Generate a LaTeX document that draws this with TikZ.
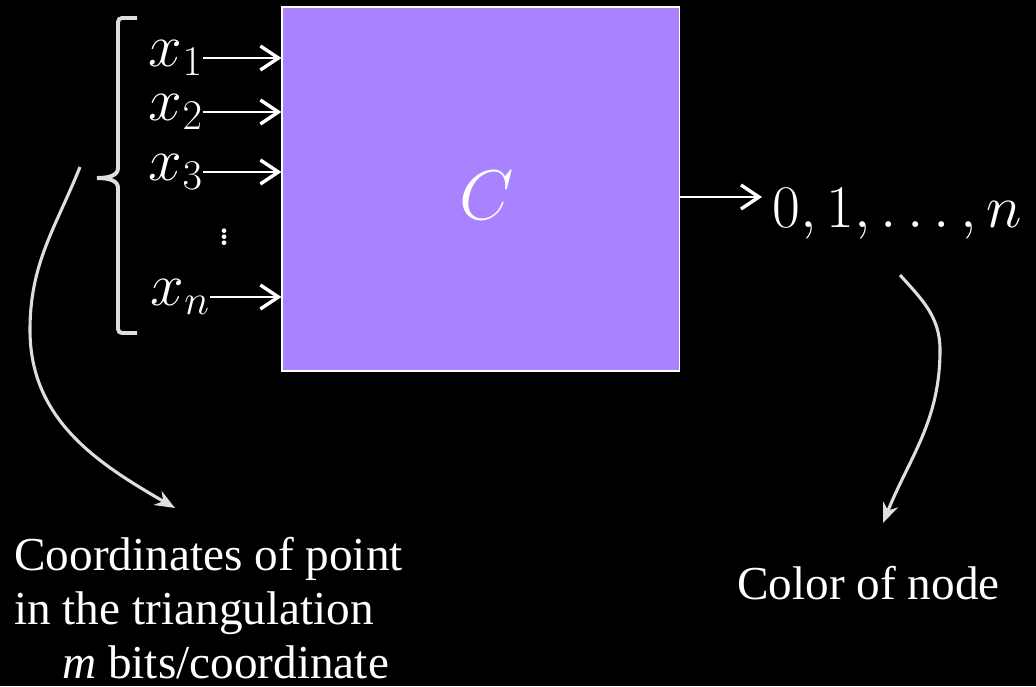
\documentclass[tikz,border=0pt]{standalone}
\usepackage{fix-cm}
\usepackage{fontspec}
\newfontfamily\tnr{Liberation Serif}
\usetikzlibrary{arrows.meta}
\definecolor{hopmau}{RGB}{169,131,255}
\definecolor{xam}{RGB}{222,222,222}

\begin{document}
\begin{tikzpicture}[x=0.025cm, y=-0.025cm,
    >={Straight Barb[length=4.5mm,width=6mm,line width=2.4pt]},
    nhan/.style={text=white, inner sep=0pt, font=\fontsize{43}{50}\selectfont},
    vao/.style={->, white, line width=1.4pt},
    cong/.style={-{Stealth[length=5mm,width=4mm]}, xam, line width=2.2pt},
    chu/.style={text=white, inner sep=0pt, align=left, font=\tnr\fontsize{33.6}{38.3}\selectfont}]
    % Nền
    \fill[black] (0,0) rectangle (1036,686);
    \useasboundingbox (0,0) rectangle (1036,686);

    % Mạch C
    \node[draw=white, fill=hopmau, line width=0.8pt, minimum width=9.925cm,
        minimum height=9.1cm] (C) at (480.5,189) {};
    \node[nhan, font=\fontsize{50}{60}\selectfont] (tenC) at (487,195) {$C$};

    % Các đầu vào
    \node[nhan, anchor=east] (x1) at (203,58) {$x_1$};
    \node[nhan, anchor=east] (x2) at (203,112) {$x_2$};
    \node[nhan, anchor=east] (x3) at (203,172) {$x_3$};
    \node[text=white, inner sep=0pt, font=\fontsize{40}{48}\selectfont] (vd) at (225,233) {$\vdots$};
    \node[nhan, anchor=east] (xn) at (210,297) {$x_n$};
    \foreach \i in {x1,x2,x3,xn}
        \draw[vao] (\i.east) -- (\i.east -| C.west);

    % Ngoặc
    \draw[xam, line width=2.8pt] (137,18) -- (122,18) to[out=180,in=90] (118,22)
        -- (118,168) .. controls (118,175) and (110,178) .. (97,178)
        .. controls (110,178) and (118,181) .. (118,188)
        -- (118,329) to[out=-90,in=180] (122,333) -- (137,333);

    % Đầu ra
    \node[nhan, anchor=base west] (out) at (772,227) {$0,1,\ldots,n$};
    \coordinate (ra) at (762,197);
    \draw[vao] (C.east |- ra) -- (ra);

    % Chú thích
    \node[chu, anchor=north west] (moTa) at (14,537)
        {Coordinates of point\\in the triangulation\\\hspace*{1.2cm}\textit{m} bits/coordinate};
    \node[chu, anchor=north west] (mau) at (737,566) {Color of node};

    \coordinate (a1) at (80,167);
    \coordinate (a2) at (175,508);
    \draw[cong] (a1) to[out=-112,in=90] (30,330) to[out=-90,in=150] (a2);
    \coordinate (b1) at (900,275);
    \coordinate (b2) at (883,523);
    \draw[cong] (b1) to[out=-48,in=90] (940,350) to[out=-90,in=68] (b2);
\end{tikzpicture}
\end{document}
